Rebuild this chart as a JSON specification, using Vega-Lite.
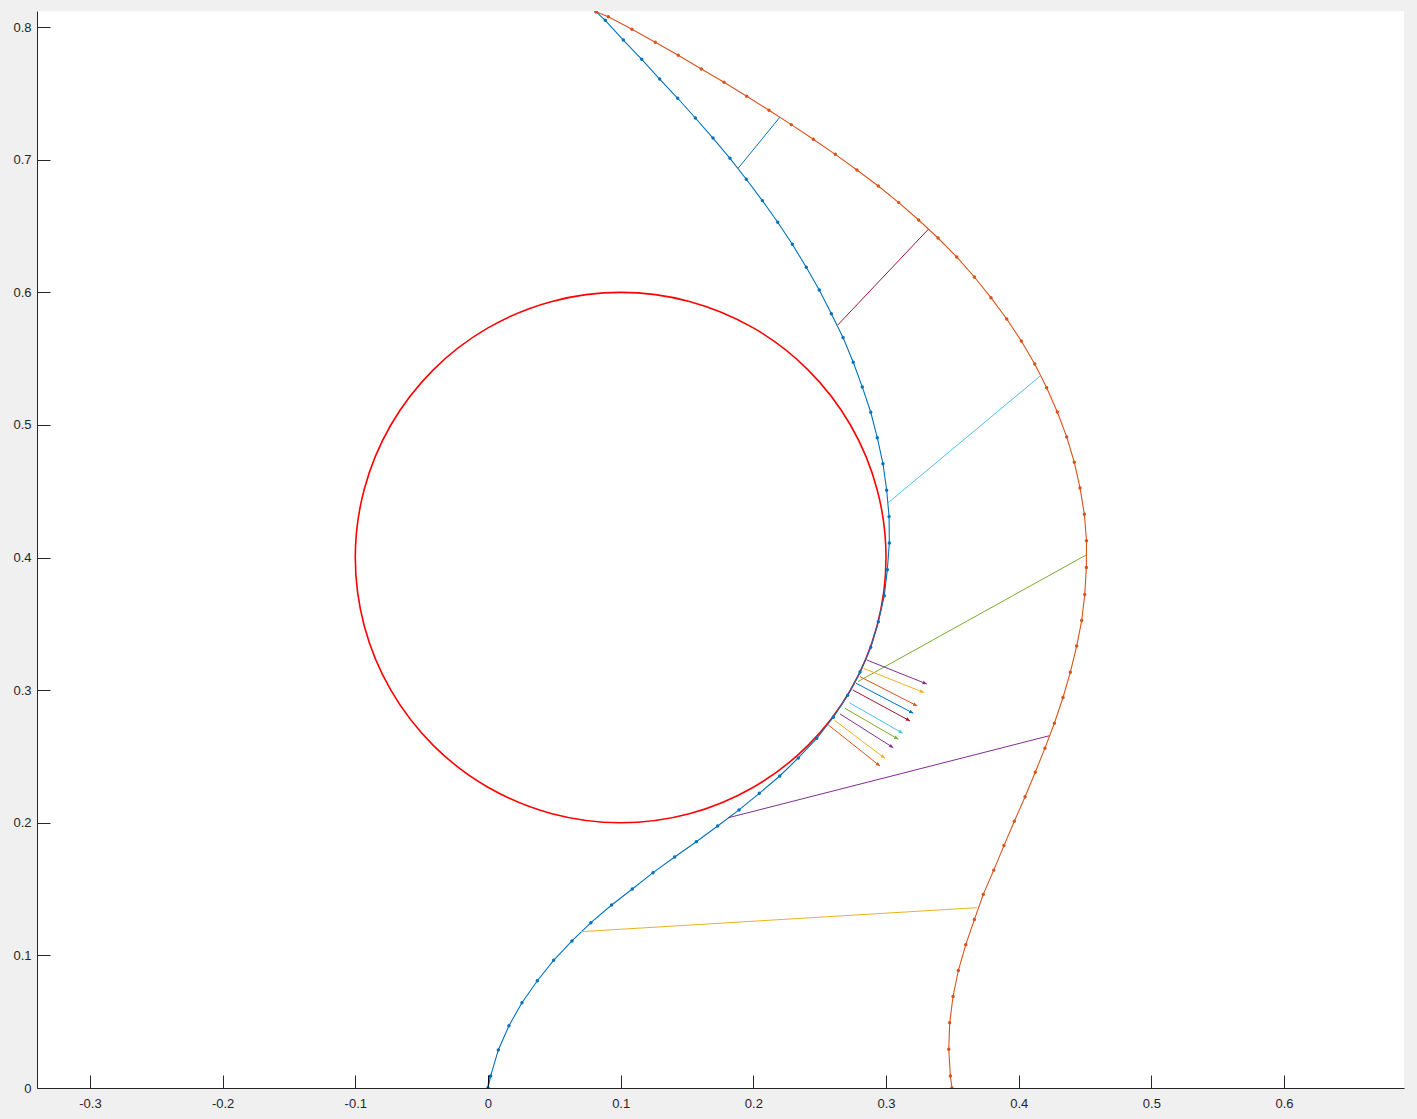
{
  "$schema": "https://vega.github.io/schema/vega-lite/v6.json",
  "width": 1367,
  "height": 1077,
  "autosize": {"type": "none"},
  "padding": {"left": 37, "top": 11, "right": 13, "bottom": 31},
  "background": "#f0f0f0",
  "config": {
    "view": {"fill": "white", "stroke": null},
    "axis": {
      "grid": false,
      "title": null,
      "domainColor": "#262626",
      "domainWidth": 1,
      "tickColor": "#262626",
      "tickWidth": 1,
      "labelFont": "Liberation Sans",
      "labelFontSize": 13,
      "labelColor": "#262626",
      "labelFlush": false,
      "labelOverlap": false
    }
  },
  "resolve": {"axis": {"x": "independent", "y": "independent"}},
  "datasets": {
    "circle": [
      {"i": 0, "x": 0.3, "y": 0.4},
      {"i": 1, "x": 0.29319, "y": 0.45176},
      {"i": 2, "x": 0.27321, "y": 0.5},
      {"i": 3, "x": 0.24142, "y": 0.54142},
      {"i": 4, "x": 0.2, "y": 0.57321},
      {"i": 5, "x": 0.15176, "y": 0.59319},
      {"i": 6, "x": 0.1, "y": 0.6},
      {"i": 7, "x": 0.04824, "y": 0.59319},
      {"i": 8, "x": 0.0, "y": 0.57321},
      {"i": 9, "x": -0.04142, "y": 0.54142},
      {"i": 10, "x": -0.07321, "y": 0.5},
      {"i": 11, "x": -0.09319, "y": 0.45176},
      {"i": 12, "x": -0.1, "y": 0.4},
      {"i": 13, "x": -0.09319, "y": 0.34824},
      {"i": 14, "x": -0.07321, "y": 0.3},
      {"i": 15, "x": -0.04142, "y": 0.25858},
      {"i": 16, "x": 0.0, "y": 0.22679},
      {"i": 17, "x": 0.04824, "y": 0.20681},
      {"i": 18, "x": 0.1, "y": 0.2},
      {"i": 19, "x": 0.15176, "y": 0.20681},
      {"i": 20, "x": 0.2, "y": 0.22679},
      {"i": 21, "x": 0.24142, "y": 0.25858},
      {"i": 22, "x": 0.27321, "y": 0.3},
      {"i": 23, "x": 0.29319, "y": 0.34824}
    ],
    "curves": [
      {"grp": "g1", "i": 0, "x": 0.0000, "y": 0.0000},
      {"grp": "g1", "i": 1, "x": 0.0020, "y": 0.0090},
      {"grp": "g1", "i": 2, "x": 0.0078, "y": 0.0287},
      {"grp": "g1", "i": 3, "x": 0.0158, "y": 0.0470},
      {"grp": "g1", "i": 4, "x": 0.0256, "y": 0.0643},
      {"grp": "g1", "i": 5, "x": 0.0372, "y": 0.0809},
      {"grp": "g1", "i": 6, "x": 0.0495, "y": 0.0963},
      {"grp": "g1", "i": 7, "x": 0.0633, "y": 0.1109},
      {"grp": "g1", "i": 8, "x": 0.0776, "y": 0.1247},
      {"grp": "g1", "i": 9, "x": 0.0932, "y": 0.1380},
      {"grp": "g1", "i": 10, "x": 0.1088, "y": 0.1501},
      {"grp": "g1", "i": 11, "x": 0.1244, "y": 0.1624},
      {"grp": "g1", "i": 12, "x": 0.1407, "y": 0.1742},
      {"grp": "g1", "i": 13, "x": 0.1570, "y": 0.1857},
      {"grp": "g1", "i": 14, "x": 0.1731, "y": 0.1976},
      {"grp": "g1", "i": 15, "x": 0.1892, "y": 0.2097},
      {"grp": "g1", "i": 16, "x": 0.2045, "y": 0.2222},
      {"grp": "g1", "i": 17, "x": 0.2199, "y": 0.2353},
      {"grp": "g1", "i": 18, "x": 0.2339, "y": 0.2489},
      {"grp": "g1", "i": 19, "x": 0.2478, "y": 0.2637},
      {"grp": "g1", "i": 20, "x": 0.2603, "y": 0.2796},
      {"grp": "g1", "i": 21, "x": 0.2711, "y": 0.2961},
      {"grp": "g1", "i": 22, "x": 0.2804, "y": 0.3137},
      {"grp": "g1", "i": 23, "x": 0.2885, "y": 0.3323},
      {"grp": "g1", "i": 24, "x": 0.2942, "y": 0.3517},
      {"grp": "g1", "i": 25, "x": 0.2987, "y": 0.3713},
      {"grp": "g1", "i": 26, "x": 0.3010, "y": 0.3909},
      {"grp": "g1", "i": 27, "x": 0.3025, "y": 0.4110},
      {"grp": "g1", "i": 28, "x": 0.3023, "y": 0.4309},
      {"grp": "g1", "i": 29, "x": 0.3005, "y": 0.4508},
      {"grp": "g1", "i": 30, "x": 0.2977, "y": 0.4708},
      {"grp": "g1", "i": 31, "x": 0.2934, "y": 0.4904},
      {"grp": "g1", "i": 32, "x": 0.2885, "y": 0.5096},
      {"grp": "g1", "i": 33, "x": 0.2821, "y": 0.5287},
      {"grp": "g1", "i": 34, "x": 0.2753, "y": 0.5473},
      {"grp": "g1", "i": 35, "x": 0.2676, "y": 0.5659},
      {"grp": "g1", "i": 36, "x": 0.2588, "y": 0.5839},
      {"grp": "g1", "i": 37, "x": 0.2497, "y": 0.6018},
      {"grp": "g1", "i": 38, "x": 0.2399, "y": 0.6189},
      {"grp": "g1", "i": 39, "x": 0.2294, "y": 0.6363},
      {"grp": "g1", "i": 40, "x": 0.2184, "y": 0.6529},
      {"grp": "g1", "i": 41, "x": 0.2068, "y": 0.6692},
      {"grp": "g1", "i": 42, "x": 0.1947, "y": 0.6853},
      {"grp": "g1", "i": 43, "x": 0.1824, "y": 0.7011},
      {"grp": "g1", "i": 44, "x": 0.1696, "y": 0.7164},
      {"grp": "g1", "i": 45, "x": 0.1563, "y": 0.7315},
      {"grp": "g1", "i": 46, "x": 0.1430, "y": 0.7464},
      {"grp": "g1", "i": 47, "x": 0.1294, "y": 0.7609},
      {"grp": "g1", "i": 48, "x": 0.1159, "y": 0.7758},
      {"grp": "g1", "i": 49, "x": 0.1020, "y": 0.7903},
      {"grp": "g1", "i": 50, "x": 0.0884, "y": 0.8052},
      {"grp": "g1", "i": 51, "x": 0.0814, "y": 0.8117},
      {"grp": "g2", "i": 0, "x": 0.0814, "y": 0.8117},
      {"grp": "g2", "i": 1, "x": 0.0907, "y": 0.8079},
      {"grp": "g2", "i": 2, "x": 0.1085, "y": 0.7984},
      {"grp": "g2", "i": 3, "x": 0.1261, "y": 0.7886},
      {"grp": "g2", "i": 4, "x": 0.1434, "y": 0.7788},
      {"grp": "g2", "i": 5, "x": 0.1608, "y": 0.7685},
      {"grp": "g2", "i": 6, "x": 0.1779, "y": 0.7584},
      {"grp": "g2", "i": 7, "x": 0.1950, "y": 0.7479},
      {"grp": "g2", "i": 8, "x": 0.2118, "y": 0.7373},
      {"grp": "g2", "i": 9, "x": 0.2286, "y": 0.7265},
      {"grp": "g2", "i": 10, "x": 0.2452, "y": 0.7155},
      {"grp": "g2", "i": 11, "x": 0.2618, "y": 0.7041},
      {"grp": "g2", "i": 12, "x": 0.2781, "y": 0.6923},
      {"grp": "g2", "i": 13, "x": 0.2942, "y": 0.6802},
      {"grp": "g2", "i": 14, "x": 0.3096, "y": 0.6677},
      {"grp": "g2", "i": 15, "x": 0.3246, "y": 0.6546},
      {"grp": "g2", "i": 16, "x": 0.3392, "y": 0.6410},
      {"grp": "g2", "i": 17, "x": 0.3533, "y": 0.6267},
      {"grp": "g2", "i": 18, "x": 0.3666, "y": 0.6116},
      {"grp": "g2", "i": 19, "x": 0.3791, "y": 0.5960},
      {"grp": "g2", "i": 20, "x": 0.3910, "y": 0.5799},
      {"grp": "g2", "i": 21, "x": 0.4020, "y": 0.5633},
      {"grp": "g2", "i": 22, "x": 0.4121, "y": 0.5460},
      {"grp": "g2", "i": 23, "x": 0.4211, "y": 0.5281},
      {"grp": "g2", "i": 24, "x": 0.4291, "y": 0.5098},
      {"grp": "g2", "i": 25, "x": 0.4362, "y": 0.4910},
      {"grp": "g2", "i": 26, "x": 0.4419, "y": 0.4719},
      {"grp": "g2", "i": 27, "x": 0.4462, "y": 0.4525},
      {"grp": "g2", "i": 28, "x": 0.4495, "y": 0.4327},
      {"grp": "g2", "i": 29, "x": 0.4511, "y": 0.4127},
      {"grp": "g2", "i": 30, "x": 0.4510, "y": 0.3926},
      {"grp": "g2", "i": 31, "x": 0.4498, "y": 0.3722},
      {"grp": "g2", "i": 32, "x": 0.4475, "y": 0.3526},
      {"grp": "g2", "i": 33, "x": 0.4437, "y": 0.3333},
      {"grp": "g2", "i": 34, "x": 0.4389, "y": 0.3135},
      {"grp": "g2", "i": 35, "x": 0.4334, "y": 0.2945},
      {"grp": "g2", "i": 36, "x": 0.4269, "y": 0.2751},
      {"grp": "g2", "i": 37, "x": 0.4198, "y": 0.2563},
      {"grp": "g2", "i": 38, "x": 0.4125, "y": 0.2381},
      {"grp": "g2", "i": 39, "x": 0.4048, "y": 0.2196},
      {"grp": "g2", "i": 40, "x": 0.3967, "y": 0.2011},
      {"grp": "g2", "i": 41, "x": 0.3889, "y": 0.1828},
      {"grp": "g2", "i": 42, "x": 0.3812, "y": 0.1643},
      {"grp": "g2", "i": 43, "x": 0.3733, "y": 0.1460},
      {"grp": "g2", "i": 44, "x": 0.3666, "y": 0.1270},
      {"grp": "g2", "i": 45, "x": 0.3601, "y": 0.1081},
      {"grp": "g2", "i": 46, "x": 0.3545, "y": 0.0886},
      {"grp": "g2", "i": 47, "x": 0.3505, "y": 0.0690},
      {"grp": "g2", "i": 48, "x": 0.3480, "y": 0.0492},
      {"grp": "g2", "i": 49, "x": 0.3473, "y": 0.0293},
      {"grp": "g2", "i": 50, "x": 0.3485, "y": 0.0090},
      {"grp": "g2", "i": 51, "x": 0.3497, "y": 0.0000}
    ],
    "links": [
      {"grp": "g3", "x": 0.0701, "y": 0.1179, "x2": 0.3684, "y2": 0.1360},
      {"grp": "g4", "x": 0.1811, "y": 0.2038, "x2": 0.4229, "y2": 0.2656},
      {"grp": "g5", "x": 0.2787, "y": 0.3064, "x2": 0.4507, "y2": 0.4019},
      {"grp": "g6", "x": 0.3017, "y": 0.4414, "x2": 0.4163, "y2": 0.5370},
      {"grp": "g7", "x": 0.2636, "y": 0.5754, "x2": 0.3319, "y2": 0.6476},
      {"grp": "g1", "x": 0.1887, "y": 0.6938, "x2": 0.2199, "y2": 0.7320},
      {"grp": "k", "x": 0.0, "y": 0.0, "x2": 0.0008, "y2": 0.0094}
    ],
    "arrows": [
      {"grp": "g2", "x": 0.2565, "y": 0.2738, "x2": 0.2955, "y2": 0.2428},
      {"grp": "g3", "x": 0.2610, "y": 0.2775, "x2": 0.2992, "y2": 0.2486},
      {"grp": "g4", "x": 0.2653, "y": 0.2821, "x2": 0.3055, "y2": 0.2566},
      {"grp": "g5", "x": 0.2691, "y": 0.2863, "x2": 0.3093, "y2": 0.2630},
      {"grp": "g6", "x": 0.2723, "y": 0.2906, "x2": 0.3126, "y2": 0.2675},
      {"grp": "g7", "x": 0.2749, "y": 0.3002, "x2": 0.3181, "y2": 0.2768},
      {"grp": "g1", "x": 0.2774, "y": 0.3052, "x2": 0.3206, "y2": 0.2826},
      {"grp": "g2", "x": 0.2804, "y": 0.3102, "x2": 0.3236, "y2": 0.2881},
      {"grp": "g3", "x": 0.2829, "y": 0.3165, "x2": 0.3286, "y2": 0.2982},
      {"grp": "g4", "x": 0.2854, "y": 0.3228, "x2": 0.3307, "y2": 0.3047}
    ]
  },
  "encoding": {
    "x": {"field": "x", "type": "quantitative", "scale": {"domain": [-0.3399, 0.6904], "nice": false, "zero": false}, "axis": null},
    "y": {"field": "y", "type": "quantitative", "scale": {"domain": [0, 0.8122], "nice": false, "zero": false}, "axis": null}
  },
  "layer": [
    {
      "data": {"name": "circle"},
      "mark": {"type": "line", "color": "#ff0000", "strokeWidth": 1.6, "interpolate": "cardinal-closed", "clip": true},
      "encoding": {
        "x": {
          "field": "x", "type": "quantitative",
          "scale": {"domain": [-0.3399, 0.6904], "nice": false, "zero": false},
          "axis": {
            "orient": "bottom",
            "values": [-0.3, -0.2, -0.1, 0, 0.1, 0.2, 0.3, 0.4, 0.5, 0.6],
            "labelExpr": "replace(format(datum.value, '~g'), '\u2212', '-')",
            "ticks": false, "tickSize": 0, "labelPadding": 9, "domain": true
          }
        },
        "y": {
          "field": "y", "type": "quantitative",
          "scale": {"domain": [0, 0.8122], "nice": false, "zero": false},
          "axis": {
            "orient": "left",
            "values": [0, 0.1, 0.2, 0.3, 0.4, 0.5, 0.6, 0.7, 0.8],
            "labelExpr": "replace(format(datum.value, '~g'), '\u2212', '-')",
            "ticks": false, "tickSize": 0, "labelPadding": 6, "domain": true
          }
        },
        "order": {"field": "i", "type": "quantitative"}
      }
    },
    {
      "data": {"name": "curves"},
      "mark": {"type": "line", "strokeWidth": 1.1, "clip": true},
      "encoding": {
        "x": {
          "field": "x", "type": "quantitative",
          "scale": {"domain": [-0.3399, 0.6904], "nice": false, "zero": false},
          "axis": {
            "orient": "bottom",
            "values": [-0.3, -0.2, -0.1, 0, 0.1, 0.2, 0.3, 0.4, 0.5, 0.6],
            "labels": false, "domain": false, "ticks": true, "tickSize": 13, "offset": -13,
            "tickColor": "#262626", "tickWidth": 1
          }
        },
        "y": {
          "field": "y", "type": "quantitative",
          "scale": {"domain": [0, 0.8122], "nice": false, "zero": false},
          "axis": {
            "orient": "left",
            "values": [0, 0.1, 0.2, 0.3, 0.4, 0.5, 0.6, 0.7, 0.8],
            "labels": false, "domain": false, "ticks": true, "tickSize": 13, "offset": -13,
            "tickColor": "#262626", "tickWidth": 1
          }
        },
        "order": {"field": "i", "type": "quantitative"},
        "color": {
          "field": "grp", "type": "nominal", "legend": null,
          "scale": {
            "domain": ["g1", "g2", "g3", "g4", "g5", "g6", "g7", "k"],
            "range": ["#0072BD", "#D95319", "#EDB120", "#7E2F8E", "#77AC30", "#4DBEEE", "#A2142F", "#000000"]
          }
        }
      }
    },
    {
      "data": {"name": "curves"},
      "mark": {"type": "point", "filled": true, "size": 12, "opacity": 1, "clip": true},
      "encoding": {
        "color": {"field": "grp", "type": "nominal", "legend": null}
      }
    },
    {
      "data": {"name": "links"},
      "mark": {"type": "rule", "strokeWidth": 1},
      "encoding": {
        "x2": {"field": "x2"},
        "y2": {"field": "y2"},
        "color": {"field": "grp", "type": "nominal", "legend": null}
      }
    },
    {
      "data": {"name": "arrows"},
      "mark": {"type": "rule", "strokeWidth": 1},
      "encoding": {
        "x2": {"field": "x2"},
        "y2": {"field": "y2"},
        "color": {"field": "grp", "type": "nominal", "legend": null}
      }
    },
    {
      "data": {"name": "arrows"},
      "transform": [
        {"calculate": "atan2(datum.x2 - datum.x, datum.y2 - datum.y) * 180 / PI", "as": "ang"}
      ],
      "mark": {"type": "point", "shape": "M-0.45,1L0,0L0.45,1Z", "filled": true, "size": 70, "opacity": 1, "strokeWidth": 0},
      "encoding": {
        "x": {"field": "x2", "type": "quantitative", "axis": null},
        "y": {"field": "y2", "type": "quantitative", "axis": null},
        "angle": {"field": "ang", "type": "quantitative", "scale": null},
        "color": {"field": "grp", "type": "nominal", "legend": null}
      }
    }
  ]
}
